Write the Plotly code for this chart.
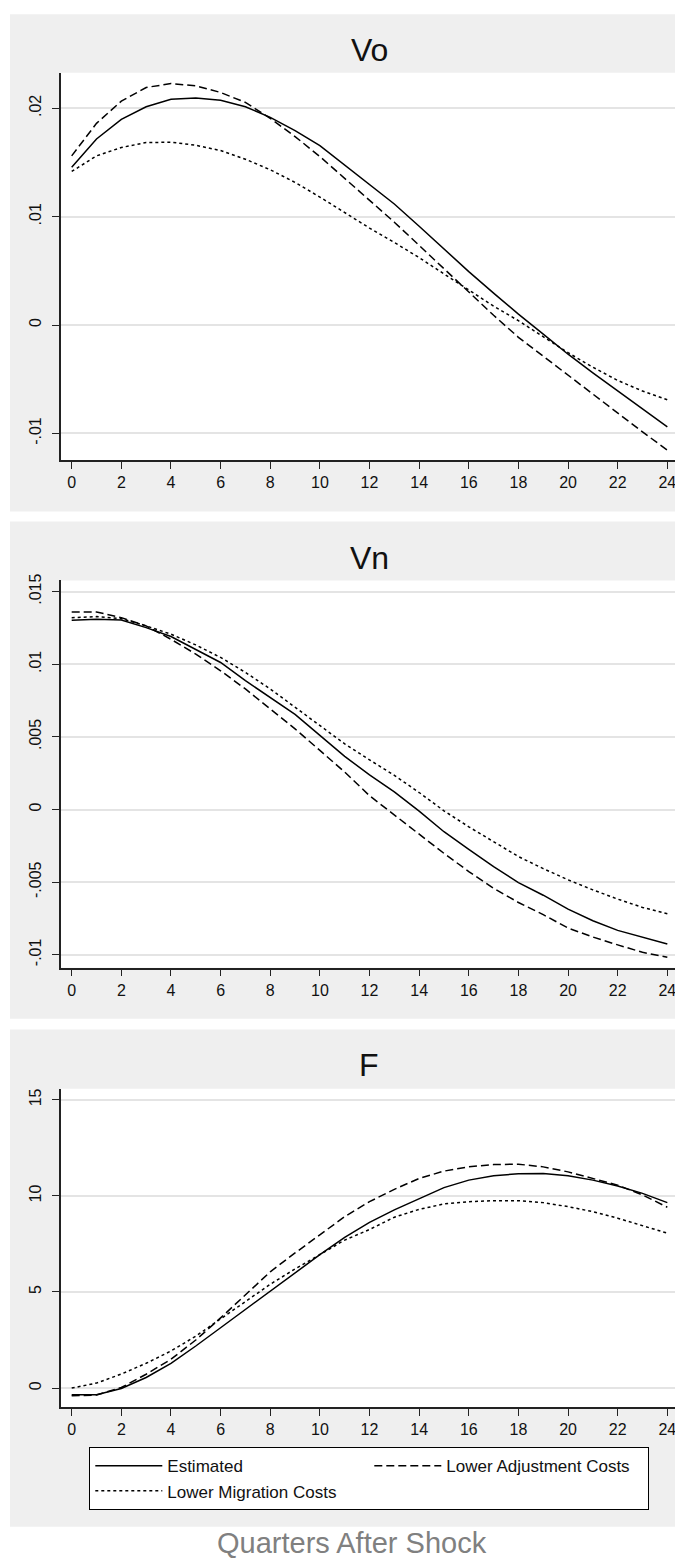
import plotly.graph_objects as go

# The page body has an 8px margin, so the figure is drawn 8px in from the
# top-left of the window; it is sized and laid out to compensate.
OFF = 8
W, H = 683 - OFF, 1562 - OFF

quarters = list(range(25))

vo_estimated = [0.01457, 0.01717, 0.01898, 0.02014, 0.02084, 0.02094, 0.02075, 0.02014, 0.01916,
                0.01794, 0.01656, 0.01476, 0.01298, 0.01117, 0.00912, 0.00704, 0.00493, 0.00295,
                0.00101, -0.00083, -0.00269, -0.00441, -0.00609, -0.00777, -0.0094]
vo_lower_adj = [0.01561, 0.01861, 0.02066, 0.02192, 0.02228, 0.02207, 0.02146, 0.02054, 0.01907,
                0.01739, 0.01555, 0.01355, 0.01158, 0.00949, 0.00735, 0.0052, 0.0031, 0.0009,
                -0.00113, -0.00288, -0.00465, -0.00643, -0.00817, -0.00986, -0.01154]
vo_lower_mig = [0.01417, 0.01561, 0.01638, 0.01684, 0.01687, 0.01659, 0.0161, 0.0153, 0.01433,
                0.01316, 0.01181, 0.01035, 0.00895, 0.00762, 0.00622, 0.00472, 0.0032, 0.00175,
                0.0004, -0.00105, -0.00255, -0.00389, -0.00511, -0.00609, -0.00689]

vn_estimated = [0.01303, 0.01309, 0.01305, 0.01252, 0.01191, 0.01104, 0.01012, 0.00887, 0.00772,
                0.00655, 0.0051, 0.00366, 0.00238, 0.00121, -0.00011, -0.00153, -0.00274, -0.00393,
                -0.00503, -0.0059, -0.00686, -0.00766, -0.00832, -0.0088, -0.00926]
vn_lower_adj = [0.0136, 0.0136, 0.01321, 0.01264, 0.01172, 0.0107, 0.00955, 0.0083, 0.00692,
                0.00555, 0.00407, 0.00258, 0.00095, -0.00039, -0.00169, -0.00302, -0.00427, -0.00542,
                -0.0064, -0.00724, -0.00816, -0.00878, -0.00932, -0.00983, -0.01017]
vn_lower_mig = [0.01321, 0.01328, 0.01314, 0.01264, 0.01207, 0.01133, 0.01047, 0.00944, 0.0083,
                0.00704, 0.00578, 0.00452, 0.00342, 0.00235, 0.00117, -0.00009, -0.00119, -0.00222,
                -0.00324, -0.00407, -0.00484, -0.00553, -0.00617, -0.00674, -0.00718]

f_estimated = [-0.35, -0.35, -0.02, 0.55, 1.29, 2.19, 3.14, 4.1, 5.05, 6.02, 6.94, 7.84, 8.62,
               9.27, 9.87, 10.43, 10.82, 11.05, 11.15, 11.17, 11.05, 10.82, 10.51, 10.13, 9.65]
f_lower_adj = [-0.4, -0.36, 0.03, 0.72, 1.5, 2.5, 3.65, 4.85, 6.05, 7.03, 7.98, 8.92, 9.7,
               10.34, 10.91, 11.29, 11.51, 11.63, 11.65, 11.51, 11.25, 10.91, 10.56, 10.05, 9.41]
f_lower_mig = [0.0, 0.26, 0.73, 1.29, 1.93, 2.7, 3.6, 4.5, 5.4, 6.2, 6.95, 7.7, 8.25,
               8.89, 9.3, 9.58, 9.7, 9.75, 9.75, 9.65, 9.44, 9.18, 8.84, 8.46, 8.06]

panel_titles = ["Vo", "Vn", "F"]
series_names = ["Estimated", "Lower Adjustment Costs", "Lower Migration Costs"]
x_ticks = list(range(0, 25, 2))
y_ticks = [
    ([-0.01, 0.0, 0.01, 0.02], ["-.01", "0", ".01", ".02"]),
    ([-0.01, -0.005, 0.0, 0.005, 0.01, 0.015], ["-.01", "-.005", "0", ".005", ".01", ".015"]),
    ([0, 5, 10, 15], ["0", "5", "10", "15"]),
]
y_ranges = [[-0.01245, 0.02328], [-0.01089, 0.01577], [-1.005, 15.57]]
x_range = [-0.443, 24.43]

panels = [
    [vo_estimated, vo_lower_adj, vo_lower_mig],
    [vn_estimated, vn_lower_adj, vn_lower_mig],
    [f_estimated, f_lower_adj, f_lower_mig],
]

FONT = "Liberation Sans, Arial, sans-serif"
dashes = ["solid", "8px,4px", "3px,3px"]


def py(px):
    """window pixel row -> paper y"""
    return 1 - (px - OFF) / H


def pxx(px):
    """window pixel column -> paper x"""
    return (px - OFF) / W


# plot-area pixel boxes (top, bottom), in window pixels
plot_boxes = [(66, 455), (576, 965), (1086.7, 1406.7)]
panel_boxes = [(7.3, 506.7), (516.7, 1016.4), (1027, 1526.7)]
title_y = [43.3, 553.7, 1063]
plot_left, plot_right = 60.7, 678

fig = go.Figure()
for i, series in enumerate(panels):
    ax = "" if i == 0 else str(i + 1)
    for j, vals in enumerate(series):
        fig.add_trace(go.Scatter(
            x=quarters, y=vals, mode="lines",
            name=series_names[j], legendgroup=series_names[j],
            showlegend=(i == 0),
            line=dict(color="black", width=1.5, dash=dashes[j]),
            xaxis="x" + ax, yaxis="y" + ax,
        ))

layout = dict(
    width=W, height=H,
    margin=dict(l=0, r=0, t=0, b=0),
    paper_bgcolor="white", plot_bgcolor="white",
    font=dict(family=FONT, color="#111111"),
    showlegend=True,
    legend=dict(
        orientation="h", x=pxx(89.3), y=py(1446.7), xanchor="left", yanchor="top",
        bgcolor="white", bordercolor="black", borderwidth=1,
        font=dict(family=FONT, size=17, color="#111111"),
        entrywidth=197, entrywidthmode="pixels", itemwidth=67,
        traceorder="normal",
    ),
)

shapes = []
annotations = []
for i in range(3):
    ax = "" if i == 0 else str(i + 1)
    top, bot = plot_boxes[i]
    layout["xaxis" + ax] = dict(
        domain=[pxx(plot_left), pxx(plot_right)], range=x_range, anchor="y" + ax,
        tickvals=x_ticks, ticks="outside", ticklen=7, tickwidth=1.2, tickcolor="#222",
        showline=True, linecolor="#222", linewidth=1.5, showgrid=False, zeroline=False,
        tickfont=dict(family=FONT, size=16, color="#111"),
    )
    layout["yaxis" + ax] = dict(
        domain=[py(bot), py(top)], range=y_ranges[i], anchor="x" + ax,
        tickvals=y_ticks[i][0], ticktext=y_ticks[i][1], tickangle=-90,
        ticks="outside", ticklen=7, tickwidth=1.2, tickcolor="#222",
        showline=True, linecolor="#222", linewidth=1.5,
        showgrid=True, gridcolor="#e4e4e4", gridwidth=1.5, zeroline=False,
        tickfont=dict(family=FONT, size=16, color="#111"), ticklabelstandoff=5,
    )
    ptop, pbot = panel_boxes[i]
    shapes.append(dict(type="rect", xref="paper", yref="paper", layer="below",
                       x0=pxx(10), x1=1.01, y0=py(pbot), y1=min(1.01, py(ptop)),
                       fillcolor="#efefef", line=dict(width=0)))
    shapes.append(dict(type="rect", xref="paper", yref="paper", layer="below",
                       x0=pxx(plot_left), x1=pxx(plot_right), y0=py(bot), y1=py(top),
                       fillcolor="white", line=dict(width=0)))
    annotations.append(dict(text=panel_titles[i], xref="paper", yref="paper",
                            x=pxx(369.3), y=py(title_y[i]), xanchor="center", yanchor="middle",
                            showarrow=False, font=dict(family=FONT, size=32, color="#111")))

annotations.append(dict(text="Quarters After Shock", xref="paper", yref="paper",
                        x=pxx(352), y=py(1543), xanchor="center", yanchor="middle",
                        showarrow=False, font=dict(family=FONT, size=29, color="#808080")))

layout["shapes"] = shapes
layout["annotations"] = annotations
fig.update_layout(**layout)
fig.write_html("out.html")
